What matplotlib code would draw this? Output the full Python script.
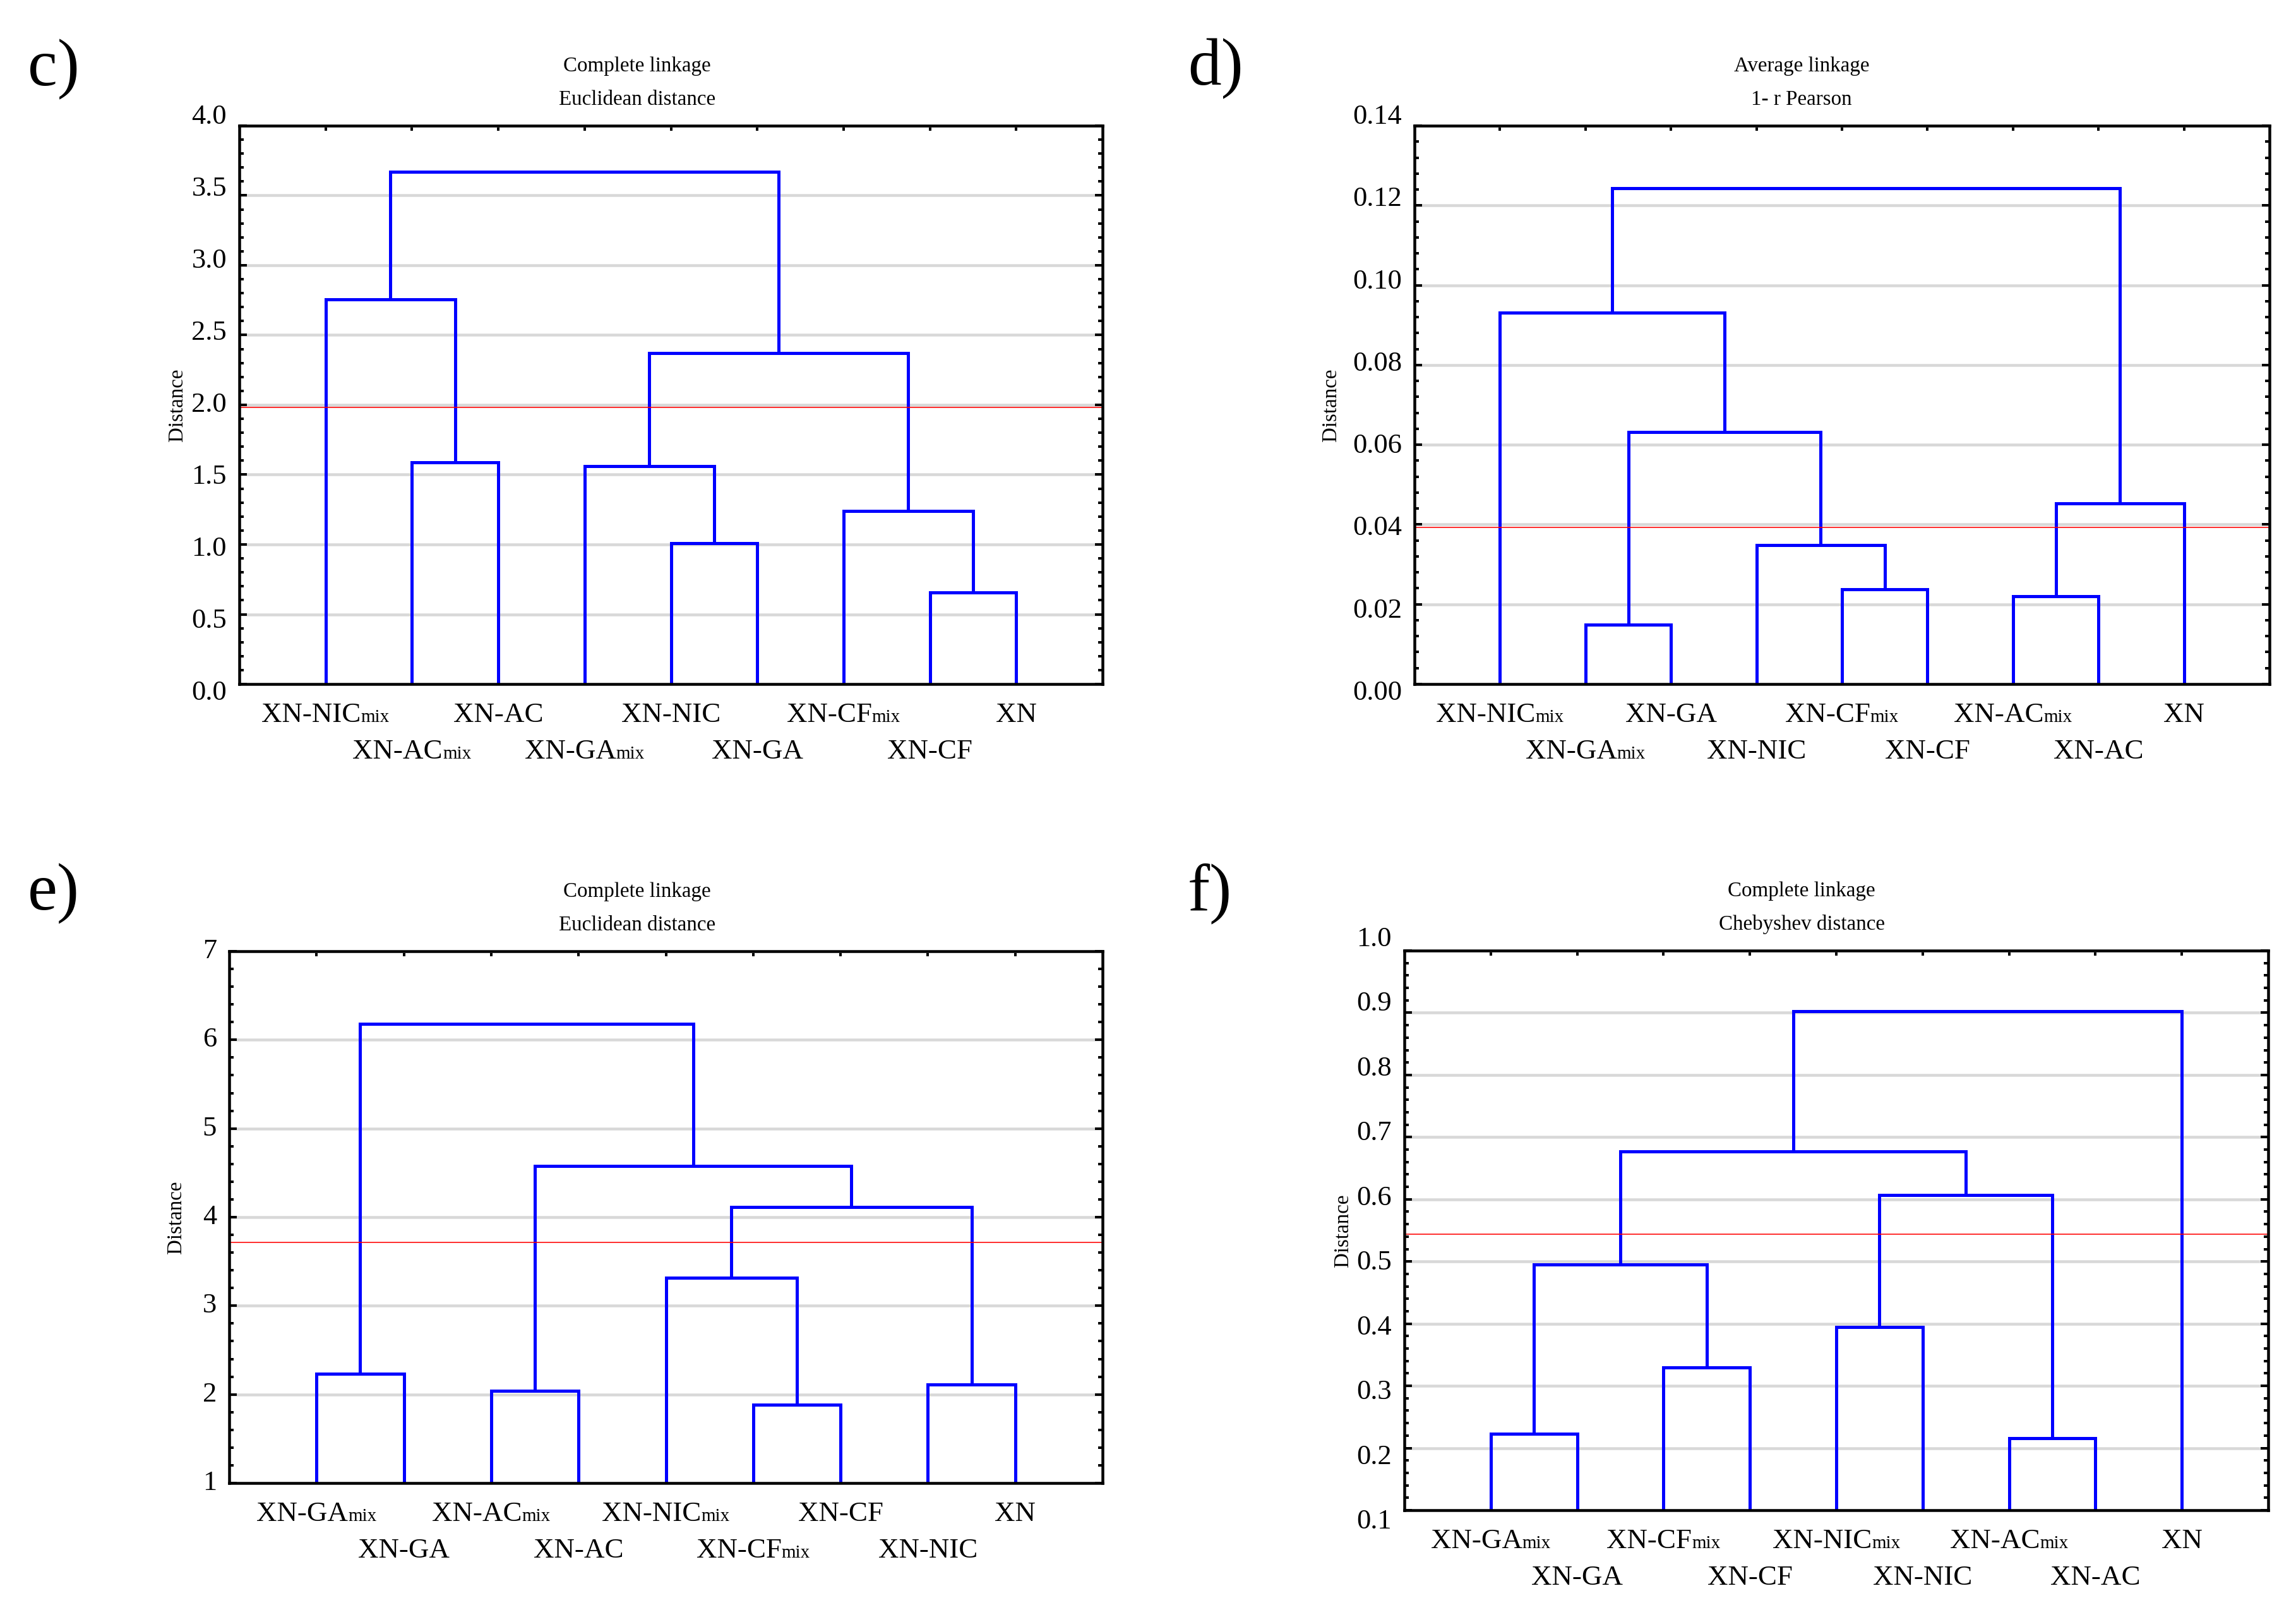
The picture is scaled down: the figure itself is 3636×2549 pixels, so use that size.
import matplotlib
matplotlib.use('agg')
import matplotlib.pyplot as plt
from matplotlib.ticker import FixedLocator, AutoMinorLocator
from matplotlib.font_manager import FontProperties
from matplotlib.textpath import TextToPath

plt.rcParams['font.family'] = ['Liberation Serif', 'DejaVu Serif']

# ---- data: leaf order, merges (child a, child b, height) like a linkage matrix,
# ---- cut line, y ticks
# c) complete linkage, euclidean distance
c_labels = ['XN-NIC_mix', 'XN-AC_mix', 'XN-AC', 'XN-GA_mix', 'XN-NIC',
            'XN-GA', 'XN-CF_mix', 'XN-CF', 'XN']
c_merges = [(7, 8, 0.657), (4, 5, 1.010), (6, 9, 1.238), (3, 10, 1.559),
            (1, 2, 1.587), (12, 11, 2.372), (0, 13, 2.755), (15, 14, 3.668)]
c_cut = 1.984
c_yticks = [0.0, 0.5, 1.0, 1.5, 2.0, 2.5, 3.0, 3.5, 4.0]
c_ylabels = ['0.0', '0.5', '1.0', '1.5', '2.0', '2.5', '3.0', '3.5', '4.0']

# d) average linkage, 1 - r Pearson
d_labels = ['XN-NIC_mix', 'XN-GA_mix', 'XN-GA', 'XN-NIC', 'XN-CF_mix',
            'XN-CF', 'XN-AC_mix', 'XN-AC', 'XN']
d_merges = [(1, 2, 0.0149), (6, 7, 0.0220), (4, 5, 0.0238), (3, 11, 0.0349),
            (10, 8, 0.0453), (9, 12, 0.0632), (0, 14, 0.0931), (15, 13, 0.1244)]
d_cut = 0.0392
d_yticks = [0.00, 0.02, 0.04, 0.06, 0.08, 0.10, 0.12, 0.14]
d_ylabels = ['0.00', '0.02', '0.04', '0.06', '0.08', '0.10', '0.12', '0.14']

# e) complete linkage, euclidean distance
e_labels = ['XN-GA_mix', 'XN-GA', 'XN-AC_mix', 'XN-AC', 'XN-NIC_mix',
            'XN-CF_mix', 'XN-CF', 'XN-NIC', 'XN']
e_merges = [(5, 6, 1.883), (2, 3, 2.042), (7, 8, 2.113), (0, 1, 2.234),
            (4, 9, 3.314), (13, 11, 4.115), (10, 14, 4.576), (12, 15, 6.177)]
e_cut = 3.715
e_yticks = [1, 2, 3, 4, 5, 6, 7]
e_ylabels = ['1', '2', '3', '4', '5', '6', '7']

# f) complete linkage, Chebyshev distance
f_labels = ['XN-GA_mix', 'XN-GA', 'XN-CF_mix', 'XN-CF', 'XN-NIC_mix',
            'XN-NIC', 'XN-AC_mix', 'XN-AC', 'XN']
f_merges = [(6, 7, 0.216), (0, 1, 0.223), (2, 3, 0.3295), (4, 5, 0.395),
            (10, 11, 0.4956), (12, 9, 0.607), (13, 14, 0.6765), (15, 8, 0.902)]
f_cut = 0.544
f_yticks = [0.1, 0.2, 0.3, 0.4, 0.5, 0.6, 0.7, 0.8, 0.9, 1.0]
f_ylabels = ['0.1', '0.2', '0.3', '0.4', '0.5', '0.6', '0.7', '0.8', '0.9', '1.0']

titles = {
    'c': ('Complete linkage', 'Euclidean distance'),
    'd': ('Average linkage', '1- r Pearson'),
    'e': ('Complete linkage', 'Euclidean distance'),
    'f': ('Complete linkage', 'Chebyshev distance'),
}

W, H = 3636, 2549
PT = 0.72  # px -> pt at dpi 100
LEAF_FS = 32.4
SUB_FS = 21

fig = plt.figure(figsize=(W / 100, H / 100), dpi=100)
fig.patch.set_facecolor('white')

t2p = TextToPath()


def text_width(s, size):
    prop = FontProperties(family='Liberation Serif', size=size)
    return t2p.get_text_width_height_descent(s, prop, ismath=False)[0]


def leaf_label(ax, x, s, dy):
    # main name plus a small "mix" on the same baseline, centred together
    main, sub = (s[:-4], 'mix') if s.endswith('_mix') else (s, '')
    wm = text_width(main, LEAF_FS)
    ws = text_width(sub, SUB_FS) if sub else 0
    x0 = -(wm + ws) / 2
    kw = dict(xy=(x, 0), xycoords=('data', 'axes fraction'), textcoords='offset points',
              ha='left', va='baseline', annotation_clip=False)
    ax.annotate(main, xytext=(x0, -dy * PT), fontsize=LEAF_FS, **kw)
    if sub:
        ax.annotate(sub, xytext=(x0 + wm, -dy * PT), fontsize=SUB_FS, **kw)


def draw_panel(key, labels, merges, cut, yticks, ylabels, box, letter_xy, title_x,
               ylab_dx, spread):
    l, t, r, b = box
    ax = fig.add_axes([l / W, 1 - b / H, (r - l) / W, (b - t) / H])
    y0, y1 = yticks[0], yticks[-1]
    ax.set_xlim(0, len(labels) + 1)
    ax.set_ylim(y0, y1)

    # dendrogram links
    xs = list(range(1, len(labels) + 1))
    ys = [y0] * len(labels)
    for a, bb, h in merges:
        ax.plot([xs[a], xs[a], xs[bb], xs[bb]], [ys[a], h, h, ys[bb]],
                color='#0000ff', lw=5 * PT, solid_joinstyle='miter',
                solid_capstyle='butt', zorder=3)
        xs.append((xs[a] + xs[bb]) / 2)
        ys.append(h)

    ax.axhline(cut, color='#ff0000', lw=1.6 * PT, zorder=4)

    ax.yaxis.set_major_locator(FixedLocator(yticks))
    ax.yaxis.set_minor_locator(AutoMinorLocator(5))
    ax.set_yticklabels([])
    ax.set_xticks(range(1, len(labels) + 1))
    ax.set_xticklabels([])
    ax.grid(axis='y', which='major', color='#d8d8d8', lw=4.5 * PT)
    ax.set_axisbelow(True)
    ax.tick_params(axis='y', which='both', direction='in', left=True, right=True,
                   width=4 * PT, color='black')
    ax.tick_params(axis='y', which='major', length=12 * PT)
    ax.tick_params(axis='y', which='minor', length=7 * PT)
    ax.tick_params(axis='x', which='major', direction='in', top=True, bottom=True,
                   length=8 * PT, width=4 * PT)
    for sp in ax.spines.values():
        sp.set_linewidth(4.5 * PT)
        sp.set_zorder(5)

    # y tick labels, spread slightly beyond the axis like the original
    for v, s in zip(yticks, ylabels):
        frac = (v - y0) / (y1 - y0)
        ax.annotate(s, xy=(0, v), xycoords=('axes fraction', 'data'),
                    xytext=(-20 * PT, (frac - 0.5) * 2 * spread * PT),
                    textcoords='offset points',
                    ha='right', va='center', fontsize=32, annotation_clip=False)

    # leaf labels on two staggered rows
    for i, lab in enumerate(labels):
        leaf_label(ax, i + 1, lab, 60 if i % 2 == 0 else 118)

    ax.set_ylabel('Distance', fontsize=23.8, va='center')
    ax.yaxis.set_label_coords(-ylab_dx / (r - l), 0.5)

    tx = (title_x - l) / (r - l)
    t1, t2 = titles[key]
    ax.annotate(t1, xy=(tx, 1), xycoords='axes fraction', xytext=(0, 86 * PT),
                textcoords='offset points', ha='center', va='baseline', fontsize=23.8)
    ax.annotate(t2, xy=(tx, 1), xycoords='axes fraction', xytext=(0, 33 * PT),
                textcoords='offset points', ha='center', va='baseline', fontsize=23.8)

    fig.text(letter_xy[0] / W, 1 - letter_xy[1] / H, key + ')', fontsize=76,
             ha='left', va='baseline')
    return ax


draw_panel('c', c_labels, c_merges, c_cut, c_yticks, c_ylabels,
           (379, 199, 1746, 1083), (44, 135), 1009, 98, 14)
draw_panel('d', d_labels, d_merges, d_cut, d_yticks, d_ylabels,
           (2240, 199, 3594, 1083), (1881, 134), 2853, 132, 14)
draw_panel('e', e_labels, e_merges, e_cut, e_yticks, e_ylabels,
           (363, 1506, 1746, 2348), (44, 1440), 1009, 84, 0)
draw_panel('f', f_labels, f_merges, f_cut, f_yticks, f_ylabels,
           (2224, 1505, 3592, 2391), (1881, 1440), 2853, 97, 18)

plt.savefig('out.png', dpi=100, facecolor='white')
